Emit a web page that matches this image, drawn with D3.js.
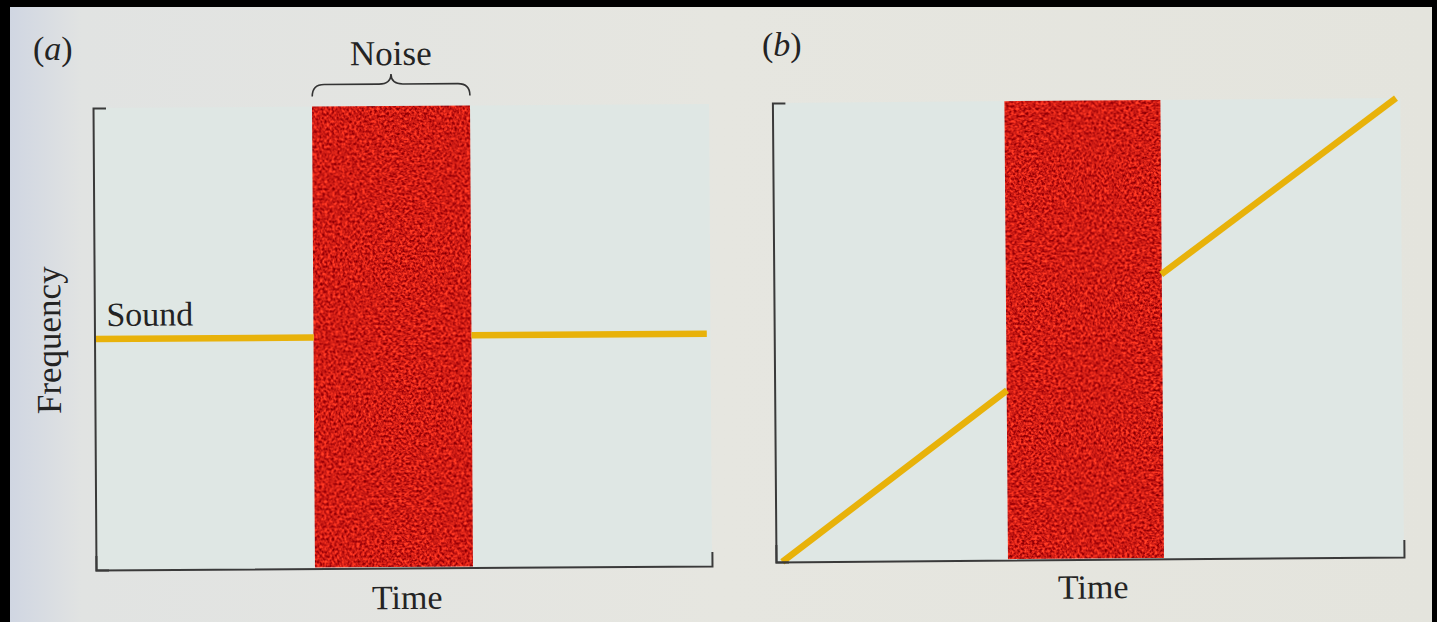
<!DOCTYPE html>
<html>
<head>
<meta charset="utf-8">
<script src="https://cdn.jsdelivr.net/npm/d3@7"></script>
<style>
  html, body { margin: 0; padding: 0; background: #000; }
  svg { display: block; }
  text { font-family: "Liberation Serif", "Times New Roman", serif; fill: #232323; }
</style>
</head>
<body>
<svg id="chart" width="1437" height="622"></svg>
<script>
// ---------- data ----------
const panelLabels = ["a", "b"];
const timeDomain = [0, 100];
const freqDomain = [0, 100];
const xAxisTitle = "Time";
const yAxisTitle = "Frequency";
const noiseLabel = "Noise";
const soundLabel = "Sound";

// noise burst: [start time, end time, top frequency]
const noiseA = [35.6, 61.2, 100];
const noiseB = [37.0, 61.7, 100];

// sound trace segments [time, frequency]
const soundASegments = [
  [[0, 50], [35.6, 50]],
  [[61.2, 50.3], [99.4, 50.3]]
];
const soundBSegments = [
  [[1, 0], [37.0, 37]],
  [[61.7, 62], [99.3, 100]]
];

// ---------- layout ----------
const svg = d3.select("#chart");
const W = 1437, H = 622;

const defs = svg.append("defs");
const grad = defs.append("linearGradient").attr("id", "pageGrad").attr("x1", 0).attr("x2", 1).attr("y1", 0).attr("y2", 0);
grad.append("stop").attr("offset", "0").attr("stop-color", "#d0d6e2");
grad.append("stop").attr("offset", "0.05").attr("stop-color", "#e1e3e2");
grad.append("stop").attr("offset", "0.5").attr("stop-color", "#e6e6e0");
grad.append("stop").attr("offset", "1").attr("stop-color", "#e4e4dd");

svg.append("rect").attr("x", 0).attr("y", 0).attr("width", W).attr("height", H).attr("fill", "#000");
svg.append("rect").attr("x", 10).attr("y", 7).attr("width", 1422).attr("height", H - 7).attr("fill", "url(#pageGrad)");

// speckled red noise texture
const filt = defs.append("filter").attr("id", "speckle")
  .attr("x", 0).attr("y", 0).attr("width", 1).attr("height", 1)
  .attr("color-interpolation-filters", "sRGB");
filt.append("feTurbulence").attr("type", "fractalNoise").attr("baseFrequency", 0.4)
  .attr("numOctaves", 2).attr("seed", 7).attr("result", "t");
filt.append("feColorMatrix").attr("in", "t").attr("type", "matrix")
  .attr("values",
    "1.1 0 0 0 0.26  " +
    "0.6 0 0 0 -0.19  " +
    "0.3 0 0 0 -0.07  " +
    "0 0 0 0 1");

const panels = [
  { label: panelLabels[0], left: 96, bottom: 570, width: 616, height: 462, noise: noiseA, segs: soundASegments,
    rot: -0.37, labelX: 33, labelY: 60, timeY: 611, brace: true, sound: true, freqTitle: true, rightTick: 14 },
  { label: panelLabels[1], left: 776, bottom: 562, width: 628, height: 459, noise: noiseB, segs: soundBSegments,
    rot: -0.45, labelX: 762, labelY: 56, timeY: 601, brace: false, sound: false, freqTitle: false, rightTick: 17 }
];

panels.forEach(p => {
  const x = d3.scaleLinear().domain(timeDomain).range([p.left, p.left + p.width]);
  const y = d3.scaleLinear().domain(freqDomain).range([p.bottom, p.bottom - p.height]);

  const g = svg.append("g").attr("transform", `rotate(${p.rot},${p.left},${p.bottom})`);

  // plot area tint
  g.append("rect")
    .attr("x", x(0)).attr("y", y(100))
    .attr("width", x(100) - x(0)).attr("height", y(0) - y(100))
    .attr("fill", "#dfe7e4");

  // noise block
  g.append("rect")
    .attr("x", x(p.noise[0])).attr("y", y(p.noise[2]))
    .attr("width", x(p.noise[1]) - x(p.noise[0]))
    .attr("height", y(0) - y(p.noise[2]) - 1)
    .attr("fill", "#c41a10")
    .attr("filter", "url(#speckle)");

  // sound trace
  const line = d3.line().x(d => x(d[0])).y(d => y(d[1]));
  g.selectAll("path.sound").data(p.segs).join("path")
    .attr("class", "sound")
    .attr("d", line)
    .attr("fill", "none")
    .attr("stroke", "#e8b20a")
    .attr("stroke-width", 6.5)
    .attr("stroke-linecap", "butt");

  // axes
  const yAxis = d3.axisLeft(y).tickValues([]).tickSizeOuter(-13);
  const xAxis = d3.axisBottom(x).tickValues([]).tickSizeOuter(-p.rightTick);
  const ya = g.append("g").attr("transform", `translate(${p.left},0)`).call(yAxis);
  const xa = g.append("g").attr("transform", `translate(0,${p.bottom})`).call(xAxis);
  [ya, xa].forEach(a => a.select(".domain").attr("stroke", "#3a3a3a").attr("stroke-width", 2));

  // x title
  g.append("text")
    .attr("x", x(50) + 3).attr("y", p.timeY)
    .attr("text-anchor", "middle")
    .attr("font-size", 34)
    .text(xAxisTitle);

  // y title
  if (p.freqTitle) {
    g.append("text")
      .attr("transform", `translate(62,${y(50) + 1}) rotate(-90)`)
      .attr("text-anchor", "middle")
      .attr("font-size", 35)
      .text(yAxisTitle);
  }

  if (p.sound) {
    g.append("text")
      .attr("x", x(0) + 12).attr("y", y(p.segs[0][0][1]) - 13)
      .attr("font-size", 34)
      .text(soundLabel);
  }

  if (p.brace) {
    const x0 = x(p.noise[0]), x1 = x(p.noise[1]), xm = (x0 + x1) / 2;
    const yb = y(p.noise[2]) - 10, yh = yb - 12, yt = yb - 22;
    const d = `M${x0},${yb} Q${x0},${yh} ${x0 + 12},${yh} L${xm - 12},${yh} Q${xm},${yh} ${xm},${yt} ` +
              `Q${xm},${yh} ${xm + 12},${yh} L${x1 - 12},${yh} Q${x1},${yh} ${x1},${yb}`;
    g.append("path").attr("d", d).attr("fill", "none").attr("stroke", "#333").attr("stroke-width", 1.6);
    g.append("text")
      .attr("x", xm).attr("y", yt - 9)
      .attr("text-anchor", "middle")
      .attr("font-size", 35)
      .text(noiseLabel);
  }

  // panel label "(a)" / "(b)"
  const t = svg.append("text").attr("x", p.labelX).attr("y", p.labelY).attr("font-size", 34);
  t.append("tspan").text("(");
  t.append("tspan").attr("font-style", "italic").text(p.label);
  t.append("tspan").text(")");
});
</script>
</body>
</html>
